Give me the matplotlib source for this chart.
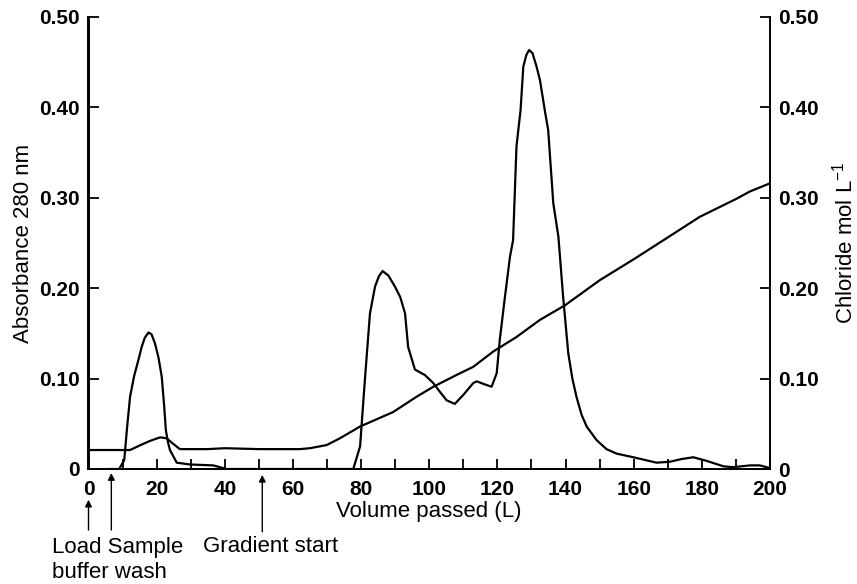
import matplotlib
matplotlib.use("Agg")
import matplotlib.pyplot as plt
from matplotlib.ticker import MultipleLocator

plt.rcParams['font.family'] = ['Liberation Sans', 'DejaVu Sans']
plt.rcParams['mathtext.fontset'] = 'custom'
plt.rcParams['mathtext.rm'] = 'Liberation Sans'
plt.rcParams['mathtext.it'] = 'Liberation Sans'

# Absorbance at 280 nm vs volume passed
abs_x = [6, 9, 10.5, 11.3, 12.2, 13.4, 14.6, 15.6, 16.5, 17.6, 18.5, 19.5, 20.5, 21.5,
         22.2, 22.7, 23.3, 23.9, 25.9, 29.8,
         36.6, 40.5, 50, 60, 70, 77.7, 79.7, 81.1, 82.6, 84.1, 85.2, 86.3, 88, 89.9, 91.5,
         92.9, 93.8, 95.8, 98.7, 101.2, 103, 105.1, 107.5, 110, 112.9, 113.9, 116, 118.3,
         119.8, 120.7, 122.2, 123.7, 124.6, 125.6, 126.8, 127.6, 128.5, 129.3, 130.3,
         131.5, 132.5, 133.9, 134.9, 136.4, 137.9, 139.3, 140.8, 142, 143.2, 144.7, 146.2,
         149.1, 152, 155, 159.9, 166.7, 170.6, 174, 177.5, 181.4, 186.3, 189.2, 194.1,
         197, 200]
abs_y = [0.0, 0.0, 0.01, 0.045, 0.08, 0.103, 0.12, 0.135, 0.145, 0.151, 0.149, 0.139,
         0.124, 0.102, 0.07, 0.043, 0.03, 0.021, 0.007, 0.005,
         0.004, 0.0, 0.0, 0.0, 0.0, 0.0, 0.025, 0.098, 0.172, 0.202, 0.213, 0.219, 0.214,
         0.202, 0.19, 0.172, 0.135, 0.11, 0.104, 0.095, 0.086, 0.076, 0.072, 0.082, 0.095,
         0.097, 0.094, 0.091, 0.106, 0.143, 0.19, 0.235, 0.253, 0.357, 0.397, 0.445,
         0.458, 0.4635, 0.46, 0.445, 0.43, 0.397, 0.375, 0.294, 0.257, 0.19, 0.128, 0.1,
         0.08, 0.06, 0.047, 0.032, 0.022, 0.017, 0.013, 0.007, 0.008, 0.011, 0.013, 0.009,
         0.003, 0.002, 0.004, 0.004, 0.001]

# Chloride concentration (mol/L) vs volume passed
cl_x = [0, 12.2, 15, 18, 21, 22.9, 24.5, 26.8, 35, 40, 50, 62.1, 65, 69.9, 73.8, 79.7,
        89.4, 96.3, 101.2, 108, 112.9, 118.8, 125.6, 132.5, 139.8, 150.1, 160, 168.7,
        179.4, 190.2, 194.1, 200]
cl_y = [0.021, 0.021, 0.026, 0.031, 0.035, 0.034, 0.029, 0.022, 0.022, 0.023, 0.022,
        0.022, 0.023, 0.0265, 0.034, 0.047, 0.063, 0.08, 0.091, 0.104, 0.113, 0.13,
        0.146, 0.165, 0.181, 0.209, 0.232, 0.253, 0.279, 0.299, 0.307, 0.316]

y_ticks = [0, 0.10, 0.20, 0.30, 0.40, 0.50]
y_ticklabels = ['0', '0.10', '0.20', '0.30', '0.40', '0.50']
x_major = [0, 20, 40, 60, 80, 100, 120, 140, 160, 180, 200]

# Event markers (volume)
marker_x = [0, 6.7, 51]

W, H = 857, 584
fig = plt.figure(figsize=(W / 100, H / 100), dpi=100)
ax = fig.add_axes([88.5 / W, 1 - 469 / H, (770 - 88.5) / W, (469 - 17) / H])
ax2 = ax.twinx()

lw = 1.6
ax.plot(abs_x, abs_y, color='black', lw=lw, solid_joinstyle='round')
ax2.plot(cl_x, cl_y, color='black', lw=lw, solid_joinstyle='round')

for a in (ax, ax2):
    a.set_xlim(0, 200)
    a.set_ylim(0, 0.5)
    a.spines['top'].set_visible(False)
    for s in a.spines.values():
        s.set_linewidth(1.4)

ax.spines['right'].set_visible(False)
ax.set_xticks(x_major)
ax.set_xticklabels([str(v) for v in x_major])
ax.xaxis.set_minor_locator(MultipleLocator(10))
ax.set_yticks(y_ticks)
ax.set_yticklabels(y_ticklabels)
ax2.set_yticks(y_ticks)
ax2.set_yticklabels(y_ticklabels)

ax.tick_params(axis='x', which='both', direction='in', length=7, width=1.3,
               labelsize=15, pad=8)
ax.tick_params(axis='y', direction='in', length=7, width=1.3, labelsize=15, pad=6)
ax2.tick_params(axis='y', direction='in', length=7, width=1.3, labelsize=15, pad=6)
for lab in ax.get_xticklabels() + ax.get_yticklabels() + ax2.get_yticklabels():
    lab.set_fontweight('bold')

ax.set_xlabel('Volume passed (L)', fontsize=16, labelpad=1)
ax.set_ylabel('Absorbance 280 nm', fontsize=16, labelpad=4)
ax2.set_ylabel('Chloride mol L$^{-1}$', fontsize=16, labelpad=9)

trans = ax.get_xaxis_transform()
heads = [-0.068, -0.009, -0.013]
tails = [-0.135, -0.135, -0.139]
for mx, hy, ty in zip(marker_x, heads, tails):
    ax.annotate('', xy=(mx, hy), xycoords=trans, xytext=(mx, ty), textcoords=trans,
                arrowprops=dict(arrowstyle='-|>', lw=1.0, color='black',
                                mutation_scale=10, shrinkA=0, shrinkB=0),
                annotation_clip=False)

fig.text(52 / W, 1 - 547 / H, 'Load Sample', fontsize=16, ha='left', va='center')
fig.text(52 / W, 1 - 572 / H, 'buffer wash', fontsize=16, ha='left', va='center')
fig.text(203 / W, 1 - 547 / H, 'Gradient start', fontsize=16, ha='left', va='center')

fig.savefig('out.png', dpi=100)
